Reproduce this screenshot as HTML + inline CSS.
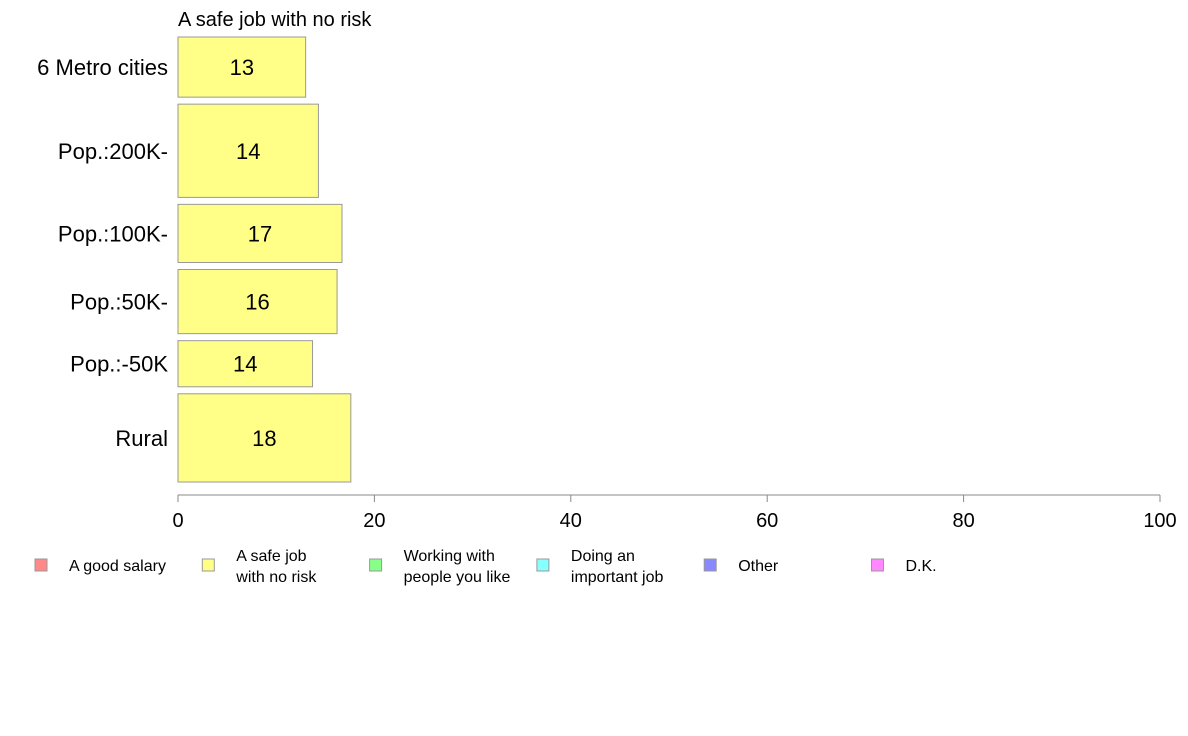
<!DOCTYPE html>
<html><head><meta charset="utf-8"><style>
body{margin:0;background:#fff;}
svg{display:block;font-family:"Liberation Sans",Arial,sans-serif;}
</style></head><body>
<svg id="chart" width="1188" height="736">
<text x="178" y="26" font-size="20">A safe job with no risk</text>
<g id="bars"></g>
<g id="axis"></g>
<g id="legend"></g>
</svg>
<script>
const categories=["6 Metro cities","Pop.:200K-","Pop.:100K-","Pop.:50K-","Pop.:-50K","Rural"];
const values=[13.0,14.3,16.7,16.2,13.7,17.6];
const groupSizes=[60,93,58,64,46,88];
const ticks=[0,20,40,60,80,100];
const legendLabels=[["A good salary"],["A safe job","with no risk"],["Working with","people you like"],["Doing an","important job"],["Other"],["D.K."]];
const legendColors=["#ff8888","#ffff88","#88ff88","#88ffff","#8888ff","#ff88ff"];
const NS="http://www.w3.org/2000/svg";
const x0=178,x1=1160,yTop=37,yBottom=482,gap=7;
const xs=v=>x0+(x1-x0)*v/100;
const total=groupSizes.reduce((a,b)=>a+b,0);
const unit=(yBottom-yTop-gap*(categories.length-1))/total;
function mk(tag,attrs,parent,text){const e=document.createElementNS(NS,tag);for(const k in attrs)e.setAttribute(k,attrs[k]);if(text!==undefined)e.textContent=text;parent.appendChild(e);return e;}
const bars=document.getElementById('bars');
let y=yTop;
categories.forEach((c,i)=>{
  const h=groupSizes[i]*unit;
  const r=mk('rect',{x:x0,y:y,width:xs(values[i])-x0,height:h,fill:'#ffff88',stroke:'#999','stroke-width':1},bars);
  
  
  const t=mk('text',{x:(x0+xs(values[i]))/2,y:y+h/2+8,'font-size':22,'text-anchor':'middle'},bars,Math.round(values[i]));
  
  
  const l=mk('text',{x:168,y:y+h/2+8,'font-size':22,'text-anchor':'end'},bars,c);
  
  
  y+=h+gap;
});
const axis=document.getElementById('axis');
const al=mk('line',{x1:x0,x2:x1,y1:495,y2:495,stroke:'#888'},axis);


ticks.forEach(v=>{
  const tl=mk('line',{x1:xs(v),x2:xs(v),y1:495,y2:502,stroke:'#888'},axis);
  
  
  const tt=mk('text',{x:xs(v),y:527,'font-size':20,'text-anchor':'middle'},axis,v);
  
  
});
const lg=document.getElementById('legend');
legendLabels.forEach((lab,i)=>{
  const bx=35+i*167.3;
  const r=mk('rect',{x:bx,y:559,width:12,height:12,fill:legendColors[i],stroke:'#999'},lg);
  
  
  const t=mk('text',{x:bx+34,'font-size':16},lg);
  
  
  if(lab.length===1){mk('tspan',{x:bx+34,y:571},t,lab[0]);}
  else{mk('tspan',{x:bx+34,y:561},t,lab[0]);mk('tspan',{x:bx+34,y:582},t,lab[1]);}
});
</script>
</body></html>
